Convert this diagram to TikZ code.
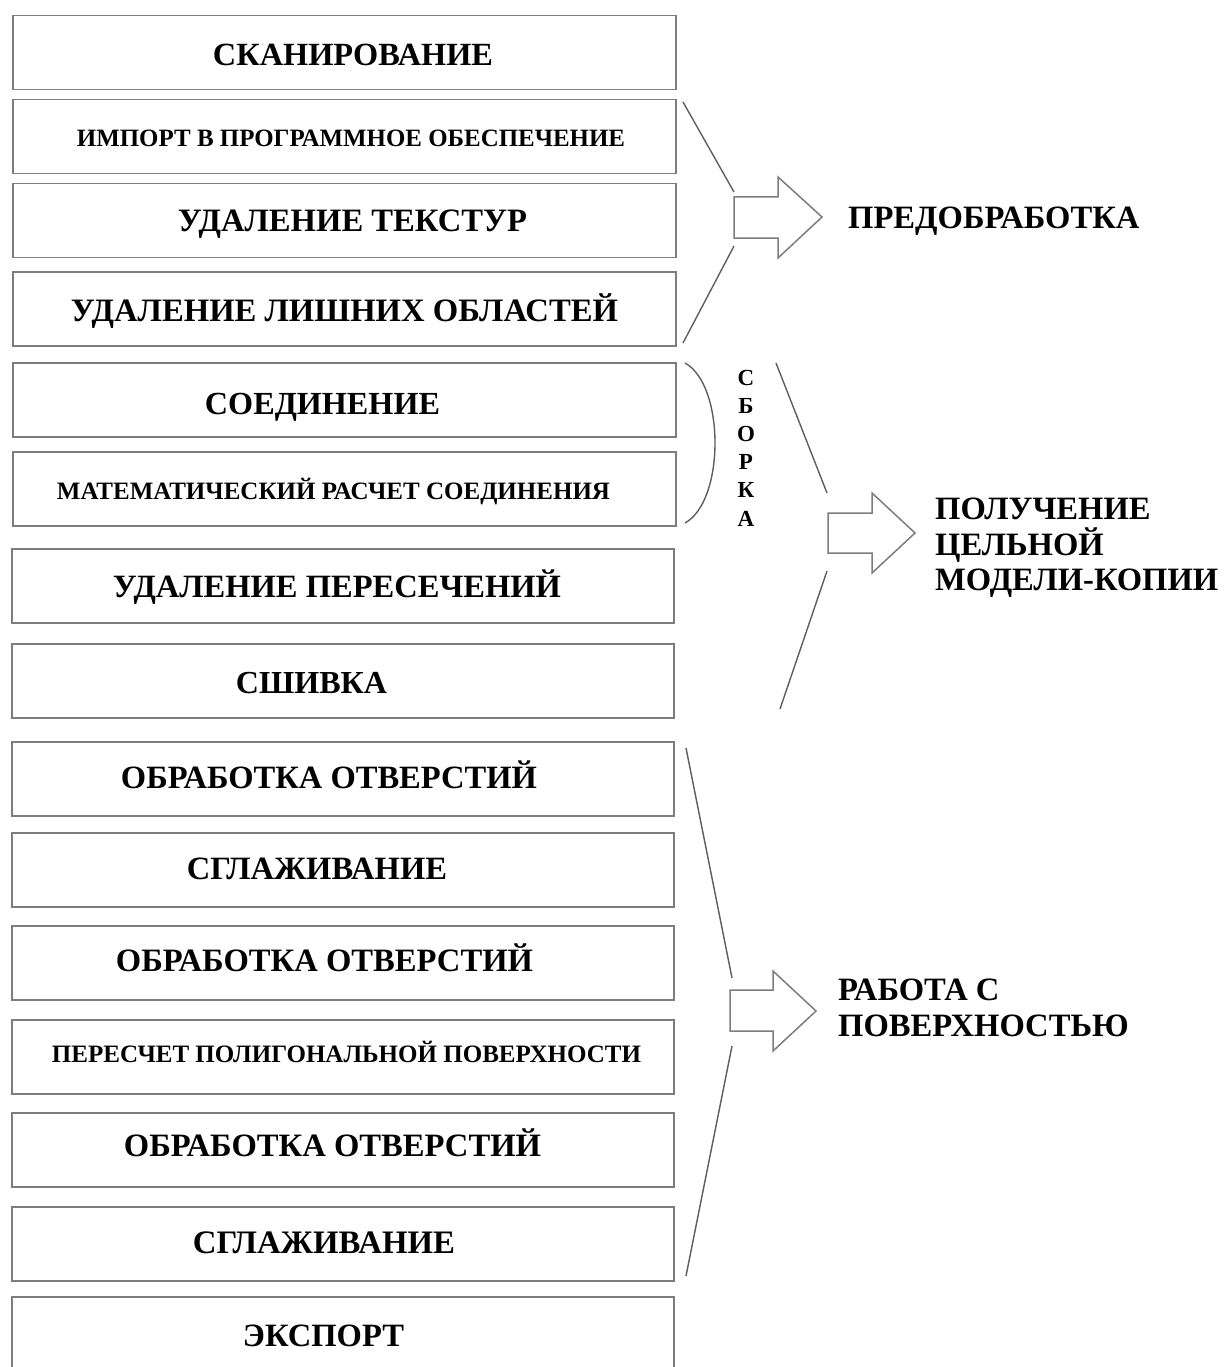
\documentclass[tikz,border=0pt]{standalone}
\usepackage{fontspec}
\setmainfont{Liberation Serif}
\usepackage{graphicx}
\definecolor{boxgray}{RGB}{125,125,125}
\definecolor{linegray}{RGB}{95,95,95}
\begin{document}
\begin{tikzpicture}[x=1pt,y=-1pt,
  box/.style={draw=boxgray, line width=1.6pt, minimum width=663pt, minimum height=74pt, inner sep=0pt},
  boxb/.style={box, minimum width=662pt},
  lbl/.style={anchor=base, inner sep=0pt, font=\bfseries},
  rlbl/.style={anchor=base west, inner sep=0pt, font=\fontsize{32.6}{36}\selectfont\bfseries},
  vlbl/.style={anchor=base, inner sep=0pt, font=\fontsize{23}{24}\selectfont\bfseries},
  conn/.style={draw=linegray, line width=1.4pt},
  barrow/.style={draw=boxgray, line width=1.5pt, fill=white, line join=miter}]
\useasboundingbox (0,0) rectangle (1223,1367);
\clip (0,0) rectangle (1223,1367);
\fill[white] (0,0) rectangle (1223,1367);

% boxes
\node[box] (b1) at (344.5,52.5) {};
\node[box] (b2) at (344.5,136.5) {};
\node[box] (b3) at (344.5,220.5) {};
\node[box] (b4) at (344.5,309) {};
\node[box] (b5) at (344.5,400) {};
\node[box] (b6) at (344.5,489) {};
\node[boxb] (b7) at (343,586) {};
\node[boxb] (b8) at (343,681) {};
\node[boxb] (b9) at (343,779) {};
\node[boxb] (b10) at (343,870) {};
\node[boxb] (b11) at (343,963) {};
\node[boxb] (b12) at (343,1057) {};
\node[boxb] (b13) at (343,1150) {};
\node[boxb] (b14) at (343,1244) {};
\node[boxb] (b15) at (343,1334) {};

% box texts
\node[lbl] (t1) at (353,66) {\resizebox{280pt}{!}{СКАНИРОВАНИЕ}};
\node[lbl] (t2) at (351,147) {\resizebox{548pt}{!}{ИМПОРТ В ПРОГРАММНОЕ ОБЕСПЕЧЕНИЕ}};
\node[lbl] (t3) at (352.5,231) {\resizebox{349pt}{!}{УДАЛЕНИЕ ТЕКСТУР}};
\node[lbl] (t4) at (344.5,321) {\resizebox{547pt}{!}{УДАЛЕНИЕ ЛИШНИХ ОБЛАСТЕЙ}};
\node[lbl] (t5) at (322.5,414) {\resizebox{235pt}{!}{СОЕДИНЕНИЕ}};
\node[lbl] (t6) at (333.5,499) {\resizebox{553pt}{!}{МАТЕМАТИЧЕСКИЙ РАСЧЕТ СОЕДИНЕНИЯ}};
\node[lbl] (t7) at (337,597) {\resizebox{448pt}{!}{УДАЛЕНИЕ ПЕРЕСЕЧЕНИЙ}};
\node[lbl] (t8) at (311.5,693) {\resizebox{151pt}{!}{СШИВКА}};
\node[lbl] (t9) at (329,788) {\resizebox{416pt}{!}{ОБРАБОТКА ОТВЕРСТИЙ}};
\node[lbl] (t10) at (317,879) {\resizebox{260pt}{!}{СГЛАЖИВАНИЕ}};
\node[lbl] (t11) at (324.5,971) {\resizebox{417pt}{!}{ОБРАБОТКА ОТВЕРСТИЙ}};
\node[lbl] (t12) at (346.5,1062) {\resizebox{589pt}{!}{ПЕРЕСЧЕТ ПОЛИГОНАЛЬНОЙ ПОВЕРХНОСТИ}};
\node[lbl] (t13) at (332.5,1156) {\resizebox{417pt}{!}{ОБРАБОТКА ОТВЕРСТИЙ}};
\node[lbl] (t14) at (324,1253) {\resizebox{262pt}{!}{СГЛАЖИВАНИЕ}};
\node[lbl] (t15) at (323.5,1346) {\resizebox{161pt}{!}{ЭКСПОРТ}};

% group 1: предобработка
\coordinate (g1a) at (683,102);
\coordinate (g1b) at (734,192);
\coordinate (g1c) at (734,246);
\coordinate (g1d) at (683,343);
\draw[conn] (g1a) -- (g1b);
\draw[conn] (g1c) -- (g1d);
\draw[barrow] (734,197) -- (778,197) -- (778,177) -- (822,217) -- (778,258) -- (778,238) -- (734,238) -- cycle;
\node[rlbl] (r1) at (848,228) {ПРЕДОБРАБОТКА};

% group 2: сборка / получение
\draw[conn] (685,363) .. controls (725,385) and (725,501) .. (685,523);
\foreach \L [count=\i] in {С,Б,О,Р,К,А}{
  \node[vlbl] (s\i) at (746,{377+28.2*(\i-1)+8}) {\L};
}
\coordinate (g2a) at (776,363);
\coordinate (g2b) at (827,493);
\coordinate (g2c) at (827,571);
\coordinate (g2d) at (780,709);
\draw[conn] (g2a) -- (g2b);
\draw[conn] (g2c) -- (g2d);
\draw[barrow] (828,513) -- (872,513) -- (872,493) -- (915,533) -- (872,573) -- (872,553) -- (828,553) -- cycle;
\node[rlbl] (r2a) at (935,519) {ПОЛУЧЕНИЕ};
\node[rlbl] (r2b) at (935,555) {ЦЕЛЬНОЙ};
\node[rlbl] (r2c) at (935,590) {МОДЕЛИ-КОПИИ};

% group 3: работа с поверхностью
\coordinate (g3a) at (686,748);
\coordinate (g3b) at (732,978);
\coordinate (g3c) at (732,1046);
\coordinate (g3d) at (686,1276);
\draw[conn] (g3a) -- (g3b);
\draw[conn] (g3c) -- (g3d);
\draw[barrow] (730,990) -- (773,990) -- (773,971) -- (816,1011) -- (773,1051) -- (773,1031) -- (730,1031) -- cycle;
\node[rlbl] (r3a) at (838,1000.5) {РАБОТА С};
\node[rlbl] (r3b) at (838,1036.5) {ПОВЕРХНОСТЬЮ};
\end{tikzpicture}
\end{document}
